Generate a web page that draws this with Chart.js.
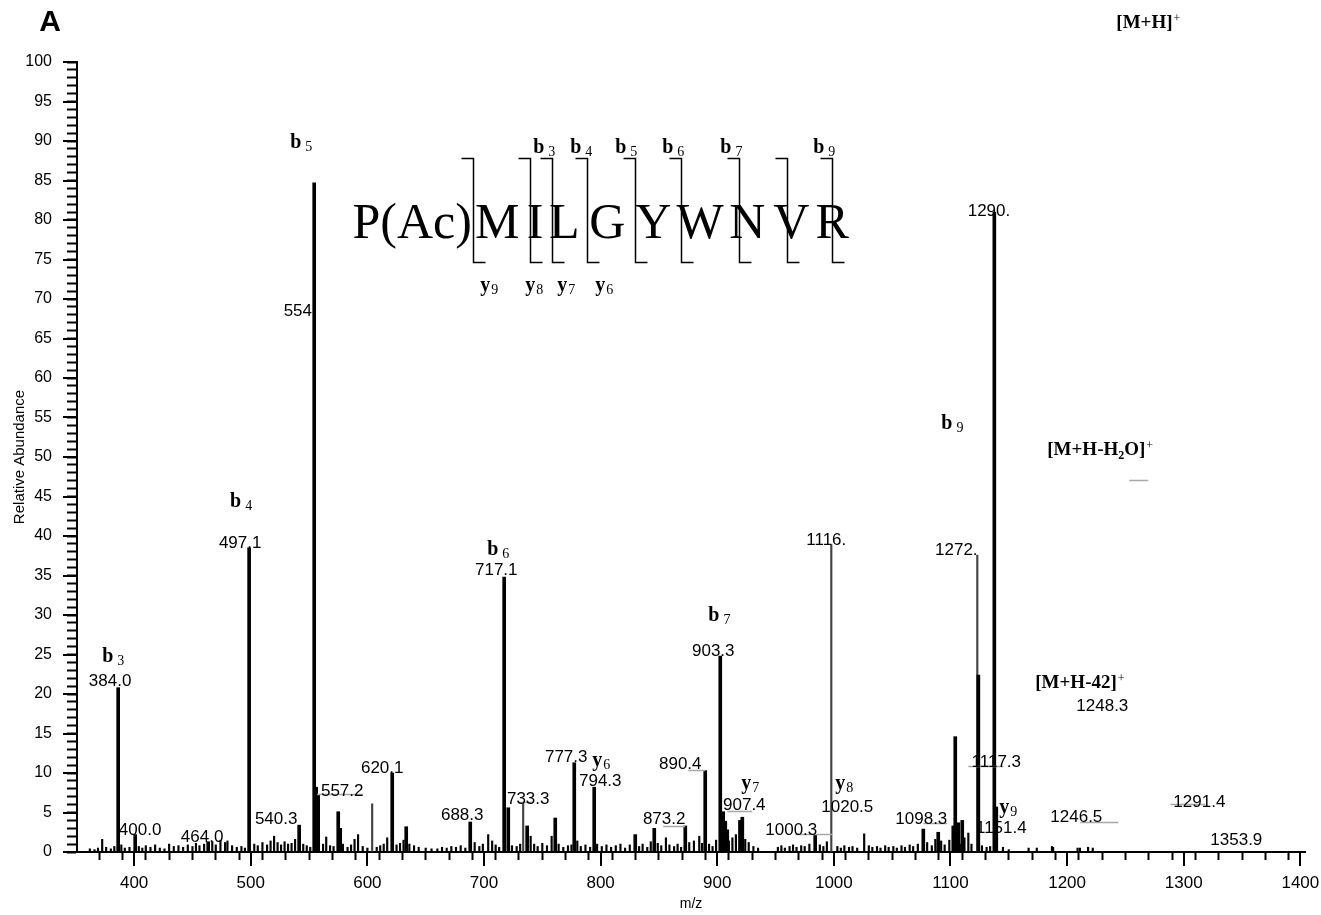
<!DOCTYPE html>
<html>
<head>
<meta charset="utf-8">
<title>Product ion spectrum - panel A</title>
<script src="https://cdn.jsdelivr.net/npm/chart.js@4.4.1/dist/chart.umd.min.js"></script>
<style>
  html, body { margin: 0; padding: 0; background: #fff; }
  #wrap { width: 1321px; height: 915px; }
</style>
</head>
<body>
<div id="wrap"><canvas id="spectrum" width="1321" height="915"></canvas></div>
<script>
// MS/MS spectrum of P(Ac)MILGYWNVR, panel A

// main fragment peaks (m/z, relative abundance)
const peakMz = [386.3, 400.9, 463.5, 498.6, 541.5, 554.4, 556.1, 557.8, 575.0, 576.7,
  621.3, 633.3, 688.2, 717.3, 720.8, 737.0, 761.1, 777.4, 794.5, 829.7, 846.0,
  872.6, 889.7, 902.6, 905.1, 906.9, 908.6, 919.5, 921.5, 984.0, 1076.7, 1089.5,
  1102.4, 1104.1, 1106.7, 1110.1, 1123.9, 1137.6, 1139.3];
const peakAbund = [20.8, 2.2, 1.3, 38.5, 3.4, 84.7, 8.2, 7.2, 5.1, 3.0,
  10.0, 3.2, 3.8, 34.8, 5.6, 3.3, 4.3, 11.3, 8.2, 2.2, 3.0,
  3.3, 10.3, 24.8, 5.1, 3.9, 2.8, 4.0, 4.4, 2.2, 2.9, 2.5,
  3.3, 14.6, 3.7, 4.0, 22.4, 81.0, 5.7];

// thin grey traces pasted into the figure
const greyMz = [604.1, 733.6, 997.8, 1123.0];
const greyAbund = [6.1, 6.3, 38.9, 37.6];

// baseline noise
const noiseMz = [362, 366, 369, 372.6, 376, 380, 383, 389, 392, 396, 404, 407, 410, 414, 418,
  422, 426, 430, 434, 438, 442, 446, 450, 453, 456, 460, 467, 470, 474, 478, 480, 484, 488,
  492, 495, 503, 506, 510, 514, 517, 520, 523, 526, 529, 532, 535, 538, 545, 548, 551, 562,
  564.7, 568, 571, 579, 583, 586, 589, 592, 596, 600, 608, 611, 614, 617, 625, 628, 631, 636,
  640, 644, 650, 655, 660, 664, 668, 672, 676, 680, 684, 692, 696, 699, 703.6, 707, 710, 713,
  724, 728, 731, 740, 743, 746, 750, 754, 758, 764, 768, 772, 775, 780, 783, 787, 791, 797,
  801, 805, 809, 813, 817, 821, 825, 833, 836, 840, 843, 849, 852, 856, 859, 863, 866, 869,
  876, 880, 884.6, 887, 893, 896, 899, 910, 913, 916, 924, 927, 931, 935, 952, 955, 958, 962,
  965, 968, 972, 975, 979, 988, 991, 994, 1003, 1006, 1009, 1013, 1016, 1020, 1026, 1030,
  1033, 1037, 1040, 1044, 1047, 1051, 1054, 1058, 1061, 1065, 1068, 1072, 1080, 1084, 1087,
  1092, 1095, 1099, 1108, 1112, 1115.3, 1118, 1127, 1131, 1134, 1145, 1150, 1167, 1174, 1187,
  1188, 1209, 1211, 1218, 1222];
const noiseAbund = [0.4, 0.3, 0.5, 1.6, 0.6, 0.4, 0.7, 0.9, 0.5, 0.6, 0.7, 0.5, 0.8, 0.6, 0.9,
  0.5, 0.4, 1.0, 0.7, 0.8, 0.6, 0.9, 0.7, 1.1, 0.8, 1.0, 1.3, 0.9, 1.5, 1.2, 1.4, 0.8, 0.6,
  0.7, 0.5, 1.0, 0.8, 1.2, 0.9, 1.4, 2.0, 1.2, 0.9, 1.3, 1.0, 1.1, 1.6, 1.0, 0.8, 0.6, 1.0,
  1.9, 0.8, 0.7, 1.0, 0.6, 0.9, 1.6, 2.2, 0.7, 0.5, 0.6, 0.8, 1.0, 1.8, 0.9, 1.1, 1.5, 1.0,
  0.8, 0.6, 0.5, 0.4, 0.4, 0.6, 0.5, 0.7, 0.6, 0.8, 0.5, 1.2, 0.7, 1.0, 2.2, 1.4, 0.9, 0.6,
  0.8, 0.7, 1.0, 2.0, 1.0, 0.7, 1.1, 0.8, 2.0, 1.0, 0.6, 0.8, 0.9, 1.4, 0.7, 0.9, 0.6, 1.0,
  0.7, 0.9, 0.6, 0.8, 1.0, 0.5, 0.9, 0.7, 1.0, 0.6, 1.3, 1.1, 0.8, 1.8, 0.9, 0.7, 1.0, 0.6,
  1.2, 1.4, 2.0, 1.1, 1.0, 0.7, 1.5, 1.4, 1.8, 2.2, 1.6, 1.2, 0.7, 0.5, 0.6, 0.8, 0.5, 0.7,
  0.9, 0.6, 0.8, 0.7, 1.0, 0.9, 0.7, 1.3, 0.7, 0.5, 0.8, 0.6, 0.7, 0.5, 2.3, 0.8,
  0.6, 0.7, 0.5, 0.8, 0.6, 0.7, 0.5, 0.8, 0.6, 0.9, 0.7, 1.0, 1.2, 0.8, 1.6,
  1.4, 0.9, 1.5, 1.0, 1.8, 2.4, 1.0, 0.8, 0.6, 0.7, 0.6, 0.3, 0.5, 0.5, 0.7,
  0.6, 0.5, 0.5, 0.6, 0.5];

// axis labels
const xLabelValues = [400, 500, 600, 700, 800, 900, 1000, 1100, 1200, 1300, 1400];
const yLabelValues = [0, 5, 10, 15, 20, 25, 30, 35, 40, 45, 50, 55, 60, 65, 70, 75, 80, 85, 90, 95, 100];

// peak m/z labels and where they sit (m/z, abundance of text centre)
const peakLabelText = ["384.0", "400.0", "464.0", "497.1", "540.3", "554.", "557.2", "620.1",
  "688.3", "717.1", "733.3", "777.3", "794.3", "873.2", "890.4", "903.3", "907.4", "1000.3",
  "1020.5", "1116.", "1098.3", "1272.", "1117.3", "1151.4", "1290.", "1246.5", "1291.4",
  "1353.9", "1248.3"];
const peakLabelAt = [[379.4, 21.6], [405.1, 2.7], [458.3, 1.9], [490.9, 39.1], [521.8, 4.2],
  [542.4, 68.4], [578.4, 7.7], [612.7, 10.6], [681.3, 4.7], [710.5, 35.6], [737.9, 6.7],
  [770.5, 12.0], [799.7, 9.0], [854.5, 4.1], [868.3, 11.1], [896.6, 25.4], [923.2, 5.9],
  [963.5, 2.8], [1011.5, 5.6], [993.5, 39.4], [1075.0, 4.2], [1105.0, 38.2], [1139.3, 11.4],
  [1143.6, 3.0], [1133.0, 81.1], [1207.9, 4.4], [1313.4, 6.3], [1345.1, 1.5], [1230.2, 18.5]];

// grey leader lines (m/z from, m/z to, abundance)
const leaders = [[556.9, 596.4, 7.3], [729.3, 742.2, 6.3], [853.7, 872.6, 3.3],
  [875.1, 889.7, 10.4], [908.6, 930.0, 5.2], [966.9, 998.6, 2.3], [1076.7, 1097.3, 3.7],
  [1115.3, 1145.3, 10.9], [1211.3, 1243.9, 3.8], [1288.5, 1318.5, 6.1], [1253.3, 1269.6, 47.1]];

// b / y ion names in the spectrum (letter, index, left m/z, baseline abundance)
const ionLabels = [["b", "3", 372.6, 24.1], ["b", "4", 482.3, 43.7], ["b", "5", 533.8, 89.1],
  ["b", "6", 702.7, 37.6], ["b", "7", 892.3, 29.2], ["b", "9", 1092.1, 53.5],
  ["y", "6", 792.8, 10.9], ["y", "7", 920.6, 8.0], ["y", "8", 1001.2, 8.0], ["y", "9", 1141.8, 4.9]];

// sequence diagram
const residues = ["P(Ac)", "M", "I", "L", "G", "Y", "W", "N", "V", "R"];
const residueMz = [638.4, 711.3, 743.9, 768.8, 805.7, 845.1, 885.4, 925.7, 963.5, 998.6];
const residueBase = 77.7;
const cleavageMz = [690.7, 739.6, 758.5, 788.5, 829.7, 869.1, 918.9, 960.0, 998.6];
const bracketTop = 87.8;
const bracketBottom = 74.7;
const seqIons = [["b", "3", 742.2, 88.5], ["b", "4", 773.9, 88.5], ["b", "5", 812.5, 88.5],
  ["b", "6", 852.8, 88.5], ["b", "7", 902.6, 88.5], ["b", "9", 982.3, 88.5],
  ["y", "9", 696.7, 71.0], ["y", "8", 735.3, 71.0], ["y", "7", 762.8, 71.0], ["y", "6", 795.4, 71.0]];

// precursor labels (main text, sub, tail, left m/z, baseline abundance)
const precursorLabels = [["[M+H]", "", "", 1242.2, 104.3], ["[M+H-H", "2", "O]", 1183.0, 50.3],
  ["[M+H-42]", "", "", 1172.7, 20.8]];

const SANS = '"Liberation Sans", Arial, sans-serif';
const SERIF = '"Liberation Serif", "Times New Roman", serif';

function pairs(xs, ys) {
  return xs.map((v, i) => ({ x: v, y: ys[i] }));
}

function drawIon(ctx, letter, sub, x, y) {
  ctx.font = "bold 20px " + SERIF;
  ctx.textAlign = "left";
  ctx.textBaseline = "alphabetic";
  ctx.fillText(letter, x, y);
  const w = ctx.measureText(letter).width;
  ctx.font = "14px " + SERIF;
  ctx.fillText(sub, x + w + (letter === "b" ? 4 : 1), y + 3);
}

const spectrumDecor = {
  id: "spectrumDecor",
  afterDraw(chart) {
    const { ctx, chartArea } = chart;
    const xs = chart.scales.x;
    const ys = chart.scales.y;
    const px = (v) => xs.getPixelForValue(v);
    const py = (v) => ys.getPixelForValue(v);

    ctx.save();
    ctx.fillStyle = "#000";
    ctx.strokeStyle = "#000";

    // longer ticks at labelled values
    ctx.lineWidth = 2;
    ctx.beginPath();
    xLabelValues.forEach((v) => {
      const X = Math.round(px(v));
      ctx.moveTo(X, chartArea.bottom);
      ctx.lineTo(X, chartArea.bottom + 14);
    });
    yLabelValues.forEach((v) => {
      const Y = Math.round(py(v));
      ctx.moveTo(chartArea.left, Y);
      ctx.lineTo(chartArea.left - 14, Y);
    });
    ctx.stroke();

    // panel letter
    ctx.font = "bold 30px " + SANS;
    ctx.textAlign = "center";
    ctx.textBaseline = "middle";
    ctx.fillText("A", 50, 23);

    // grey leaders
    ctx.strokeStyle = "#a8a8a8";
    ctx.lineWidth = 1.5;
    ctx.beginPath();
    leaders.forEach(([a, b, v]) => {
      const Y = Math.round(py(v)) + 0.5;
      ctx.moveTo(px(a), Y);
      ctx.lineTo(px(b), Y);
    });
    ctx.stroke();

    // peak m/z labels
    ctx.fillStyle = "#000";
    ctx.font = "17px " + SANS;
    ctx.textAlign = "center";
    ctx.textBaseline = "middle";
    peakLabelText.forEach((t, i) => {
      ctx.fillText(t, px(peakLabelAt[i][0]), py(peakLabelAt[i][1]));
    });

    ionLabels.forEach(([l, s, m, v]) => drawIon(ctx, l, s, px(m), py(v)));

    // precursor labels
    precursorLabels.forEach(([main, sub, tail, m, v]) => {
      let X = px(m);
      const Y = py(v);
      ctx.textAlign = "left";
      ctx.textBaseline = "alphabetic";
      ctx.font = "bold 19px " + SERIF;
      ctx.fillText(main, X, Y);
      X += ctx.measureText(main).width;
      if (sub) {
        ctx.font = "bold 12px " + SERIF;
        ctx.fillText(sub, X, Y + 4);
        X += ctx.measureText(sub).width;
        ctx.font = "bold 19px " + SERIF;
        ctx.fillText(tail, X, Y);
        X += ctx.measureText(tail).width;
      }
      ctx.font = "12px " + SERIF;
      ctx.fillText("+", X + 1, Y - 6);
    });

    // sequence with cleavage brackets
    ctx.font = "50px " + SERIF;
    ctx.textAlign = "center";
    ctx.textBaseline = "alphabetic";
    residues.forEach((r, i) => ctx.fillText(r, px(residueMz[i]), py(residueBase)));

    ctx.strokeStyle = "#000";
    ctx.lineWidth = 1.5;
    ctx.beginPath();
    const yt = Math.round(py(bracketTop)) + 0.5;
    const yb = Math.round(py(bracketBottom)) + 0.5;
    cleavageMz.forEach((m) => {
      const X = Math.round(px(m)) + 0.5;
      ctx.moveTo(X - 12, yt);
      ctx.lineTo(X, yt);
      ctx.lineTo(X, yb);
      ctx.lineTo(X + 12, yb);
    });
    ctx.stroke();

    seqIons.forEach(([l, s, m, v]) => drawIon(ctx, l, s, px(m), py(v)));

    ctx.restore();
  },
};

new Chart(document.getElementById("spectrum"), {
  type: "bar",
  data: {
    datasets: [
      {
        data: pairs(peakMz, peakAbund),
        backgroundColor: "#000",
        barThickness: 3,
        grouped: false,
      },
      {
        data: pairs(greyMz, greyAbund),
        backgroundColor: "#444",
        barThickness: 1.5,
        grouped: false,
      },
      {
        data: pairs(noiseMz, noiseAbund),
        backgroundColor: "#000",
        barThickness: 1.5,
        grouped: false,
      },
    ],
  },
  options: {
    responsive: false,
    animation: false,
    devicePixelRatio: 1,
    layout: { padding: { top: 62, right: 16, left: 0, bottom: 0 } },
    plugins: { legend: { display: false }, tooltip: { enabled: false } },
    scales: {
      x: {
        type: "linear",
        offset: false,
        min: 351,
        max: 1404,
        afterBuildTicks: (scale) => {
          const t = [];
          for (let v = 360; v <= 1400; v += 20) t.push({ value: v });
          scale.ticks = t;
        },
        afterFit: (scale) => {
          scale.height = 63;
          scale.paddingLeft = 0;
          scale.paddingRight = 0;
        },
        grid: { drawOnChartArea: false, tickLength: 8, tickWidth: 2, tickColor: "#000" },
        border: { color: "#000", width: 2 },
        ticks: {
          autoSkip: false,
          maxRotation: 0,
          padding: 13,
          color: "#000",
          font: { family: SANS, size: 17 },
          callback: (v) => (xLabelValues.includes(v) ? String(v) : ""),
        },
        title: {
          display: true,
          text: "m/z",
          color: "#000",
          font: { family: SANS, size: 14 },
          padding: { top: 1, bottom: 2 },
        },
      },
      y: {
        min: 0,
        max: 100,
        afterFit: (scale) => { scale.width = 77; },
        grid: { drawOnChartArea: false, tickLength: 10, tickWidth: 2, tickColor: "#000" },
        border: { color: "#000", width: 2 },
        ticks: {
          stepSize: 1,
          autoSkip: false,
          padding: 15,
          color: "#000",
          font: { family: SANS, size: 16 },
          callback: (v) => (yLabelValues.includes(v) ? String(v) : ""),
        },
        title: {
          display: true,
          text: "Relative Abundance",
          color: "#000",
          font: { family: SANS, size: 15 },
          padding: { top: 11, bottom: 0 },
        },
      },
    },
  },
  plugins: [spectrumDecor],
});
</script>
</body>
</html>
